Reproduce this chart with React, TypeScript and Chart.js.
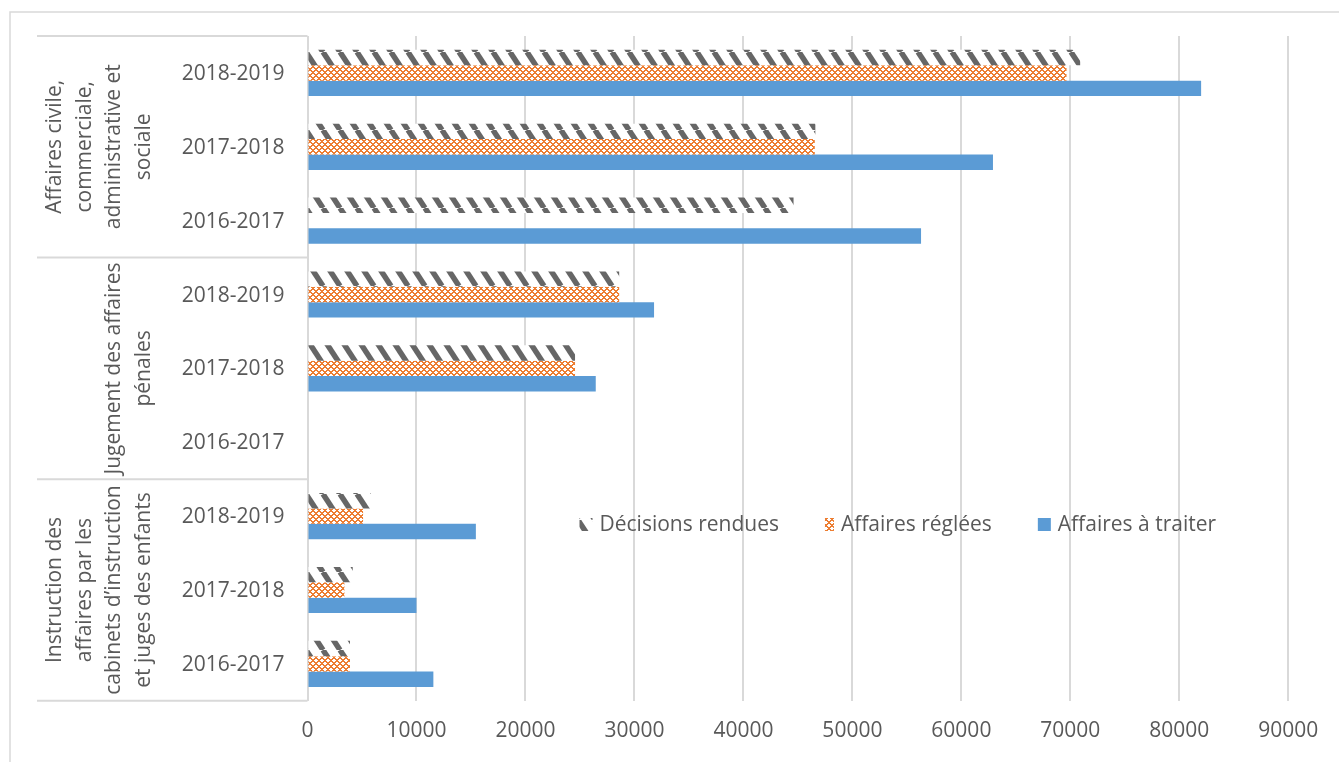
import React, { useEffect, useRef } from 'react';
import { Chart, registerables } from 'chart.js';

Chart.register(...registerables);

// ---------- DATA ----------
const yearLabels = [
  '2018-2019', '2017-2018', '2016-2017',
  '2018-2019', '2017-2018', '2016-2017',
  '2018-2019', '2017-2018', '2016-2017',
];
const groupLabels = [
  ['Affaires civile,', 'commerciale,', 'administrative et', 'sociale'],
  ['Jugement des affaires', 'pénales'],
  ['Instruction des', 'affaires par les', 'cabinets d’instruction', 'et juges des enfants'],
];
const groupSizes = [3, 3, 3];
const seriesNames = ['Décisions rendues', 'Affaires réglées', 'Affaires à traiter'];
const decisionsRendues = [70900, 46600, 44600, 28600, 24550, null, 5800, 4150, 3900];
const affairesReglees = [69650, 46550, null, 28600, 24550, null, 5100, 3380, 3900];
const affairesATraiter = [82000, 62900, 56300, 31800, 26450, null, 15450, 10000, 11550];
const xMin = 0;
const xMax = 90000;
const xStep = 10000;

// ---------- STYLE ----------
const FONT = "'Open Sans', 'DejaVu Sans', sans-serif";
const FONT_SIZE = 21;
const TEXT = '#595959';
const GRID = '#d9d9d9';
const BLUE = '#5b9bd5';
const HATCH = '#666666';

function makeHatch(ctx: CanvasRenderingContext2D) {
  const c = document.createElement('canvas');
  c.width = 17;
  c.height = 26;
  const g = c.getContext('2d')!;
  g.fillStyle = '#ffffff';
  g.fillRect(0, 0, 17, 26);
  g.strokeStyle = HATCH;
  g.lineWidth = 5.5;
  for (const k of [-17, 0, 17]) {
    g.beginPath();
    g.moveTo(k, 0);
    g.lineTo(k + 17, 26);
    g.stroke();
  }
  return ctx.createPattern(c, 'repeat')!;
}

function makeDots(ctx: CanvasRenderingContext2D) {
  const c = document.createElement('canvas');
  c.width = 6;
  c.height = 6;
  const g = c.getContext('2d')!;
  const img = g.createImageData(6, 6);
  for (let y = 0; y < 6; y++) {
    for (let x = 0; x < 6; x++) {
      const a = (x + y) % 6;
      const b = (((x - y) % 6) + 6) % 6;
      const on = a <= 1 || b <= 1;
      const i = (y * 6 + x) * 4;
      if (on) {
        img.data[i] = 0xed; img.data[i + 1] = 0x7d; img.data[i + 2] = 0x31;
      } else {
        img.data[i] = 255; img.data[i + 1] = 255; img.data[i + 2] = 255;
      }
      img.data[i + 3] = 255;
    }
  }
  g.putImageData(img, 0, 0);
  return ctx.createPattern(c, 'repeat')!;
}

const overlayPlugin = {
  id: 'overlay',
  afterDraw(chart: any) {
    const ctx: CanvasRenderingContext2D = chart.ctx;
    const area = chart.chartArea;
    const y = chart.scales.y;
    ctx.save();

    // outer frame (top and left visible)
    ctx.strokeStyle = GRID;
    ctx.lineWidth = 1.5;
    ctx.beginPath();
    ctx.moveTo(10, chart.height);
    ctx.lineTo(10, 12);
    ctx.lineTo(chart.width, 12);
    ctx.stroke();

    // category box lines
    const boxLeft = 37;
    const bounds: number[] = [area.top];
    let idx = 0;
    groupSizes.forEach((n, gi) => {
      idx += n;
      if (gi < groupSizes.length - 1) {
        bounds.push((y.getPixelForValue(idx - 1) + y.getPixelForValue(idx)) / 2);
      }
    });
    bounds.push(area.bottom);
    ctx.strokeStyle = GRID;
    ctx.lineWidth = 2;
    bounds.forEach((b) => {
      ctx.beginPath();
      ctx.moveTo(boxLeft, b);
      ctx.lineTo(area.left, b);
      ctx.stroke();
    });

    // year labels
    ctx.fillStyle = TEXT;
    ctx.font = `${FONT_SIZE}px ${FONT}`;
    ctx.textAlign = 'right';
    ctx.textBaseline = 'middle';
    yearLabels.forEach((lab, i) => {
      ctx.fillText(lab, area.left - 23, y.getPixelForValue(i) + 1);
    });

    // group labels (rotated)
    ctx.textAlign = 'center';
    groupLabels.forEach((lines, gi) => {
      const cy = (bounds[gi] + bounds[gi + 1]) / 2;
      const n = lines.length;
      lines.forEach((line, j) => {
        const cx = 144 - (n - 1 - j) * 29.5;
        ctx.save();
        ctx.translate(cx, cy);
        ctx.rotate(-Math.PI / 2);
        ctx.fillText(line, 0, 0);
        ctx.restore();
      });
    });

    // legend inside plot
    const ly = area.top + 489;
    let lx = area.left + 272;
    const datasets = chart.data.datasets;
    ctx.textAlign = 'left';
    ctx.textBaseline = 'middle';
    datasets.forEach((ds: any, i: number) => {
      ctx.fillStyle = ds.backgroundColor;
      const w = i === 1 ? 9 : 13;
      ctx.fillRect(lx, ly - 7, w, 13);
      lx += w + 7;
      ctx.fillStyle = TEXT;
      ctx.fillText(seriesNames[i], lx, ly);
      lx += ctx.measureText(seriesNames[i]).width + 46;
    });

    ctx.restore();
  },
};

export default function App() {
  const ref = useRef<HTMLCanvasElement>(null);
  useEffect(() => {
    const canvas = ref.current!;
    const ctx = canvas.getContext('2d')!;
    const hatch = makeHatch(ctx);
    const dots = makeDots(ctx);
    const chart = new Chart(canvas, {
      type: 'bar',
      data: {
        labels: yearLabels,
        datasets: [
          { label: seriesNames[0], data: decisionsRendues, backgroundColor: hatch as any, borderWidth: 0 },
          { label: seriesNames[1], data: affairesReglees, backgroundColor: dots as any, borderWidth: 0 },
          { label: seriesNames[2], data: affairesATraiter, backgroundColor: BLUE, borderWidth: 0 },
        ],
      },
      options: {
        indexAxis: 'y',
        responsive: false,
        animation: false,
        devicePixelRatio: 1,
        datasets: { bar: { categoryPercentage: 0.625, barPercentage: 1.0 } },
        layout: { padding: { left: 307.5, right: 50.7, top: 36, bottom: 0 } },
        plugins: { legend: { display: false }, tooltip: { enabled: false } },
        scales: {
          x: {
            min: xMin,
            max: xMax,
            ticks: {
              stepSize: xStep,
              color: TEXT,
              font: { family: FONT, size: FONT_SIZE },
              padding: 18,
              maxRotation: 0,
              callback: (v: any) => String(v),
            },
            grid: { color: GRID, lineWidth: 2, drawTicks: false },
            border: { display: false },
          },
          y: { display: false },
        },
      },
      plugins: [overlayPlugin],
    });
    return () => chart.destroy();
  }, []);
  return (
    <div style={{ position: 'absolute', left: 0, top: 0, width: 1339, height: 762, background: '#fff' }}>
      <canvas ref={ref} width={1339} height={762} style={{ display: 'block' }} />
    </div>
  );
}
